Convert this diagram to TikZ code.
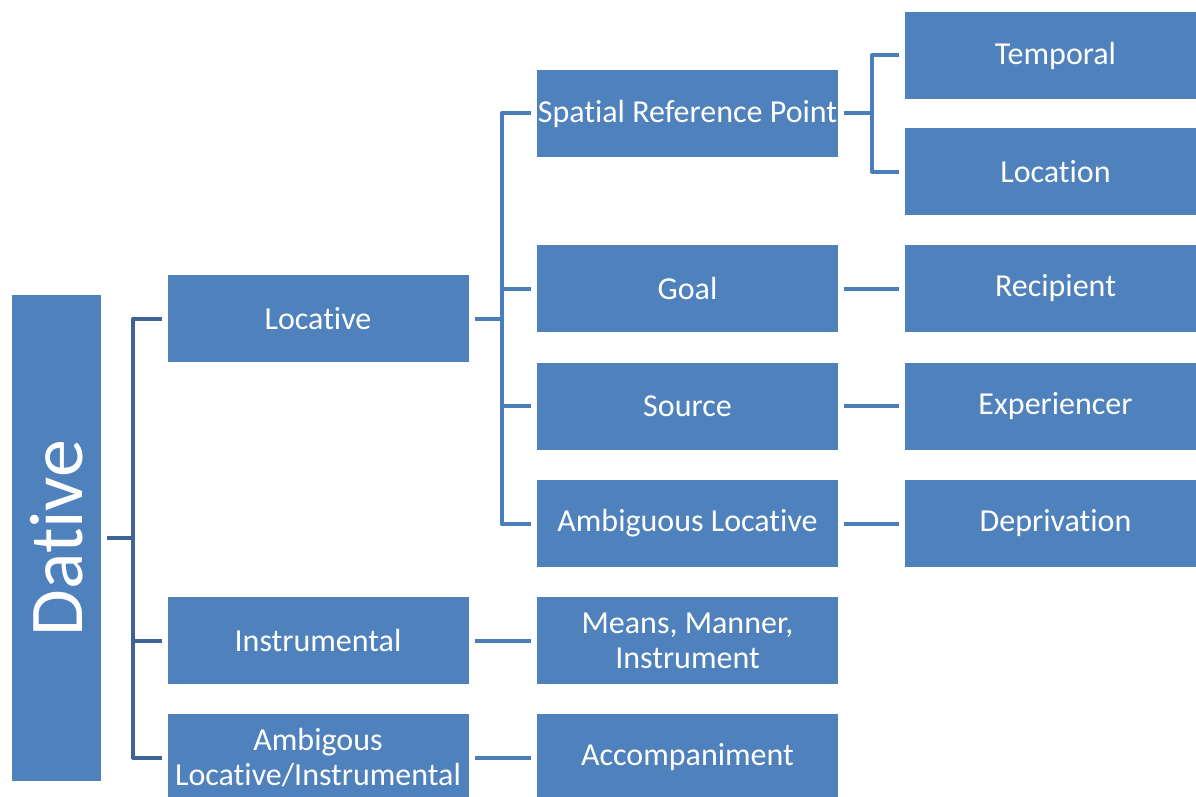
\documentclass[tikz,border=0pt]{standalone}
\usepackage{fontspec}
\setmainfont{Carlito}[Ligatures={NoCommon}]
\usepackage{tikz}
\usetikzlibrary{positioning}
\definecolor{boxblue}{HTML}{4F81BD}
\definecolor{lineblue}{HTML}{4A7EBB}
\definecolor{darkline}{HTML}{3E6596}
\tikzset{
  box/.style={rectangle, fill=boxblue, text=white, minimum width=301pt, minimum height=87pt, inner sep=0pt, outer sep=6pt, align=center, font=\fontsize{32}{35}\selectfont},
  conn/.style={draw=lineblue, line width=4pt, line join=round},
  dconn/.style={draw=darkline, line width=4pt, line join=round}
}
\begin{document}
\begin{tikzpicture}[x=1pt, y=-1pt]
\useasboundingbox (0,0) rectangle (1196,797);
%\draw [help lines] (0,0) grid (1196,797);
%1
\node[box, minimum width=89pt, minimum height=486pt] (dative) at (56.5,538) {\rotatebox{90}{\fontsize{76}{80}\selectfont Dative}};
%2
\node[box] (locative) at (318,318.5) {Locative};
\node[box] (instr) at (318,640.5) {Instrumental};
\node[box] (ambli) at (318,757.5) {Ambigous\\Locative/Instrumental};
%3
\node[box] (spatial) at (687.5,113.5) {Spatial Reference Point};
\node[box] (goal) at (687.5,288.5) {Goal};
\node[box] (source) at (687.5,406) {Source};
\node[box] (ambloc) at (687.5,523.5) {Ambiguous Locative};
\node[box] (means) at (687.5,640.5) {Means, Manner,\\Instrument};
\node[box] (accomp) at (687.5,757.5) {Accompaniment};
%4
\node[box] (temporal) at (1055.5,55.5) {Temporal};
\node[box] (location) at (1055.5,171.5) {Location};
\node[box] (recipient) at (1055.5,288.5) {Recipient};
\node[box] (experiencer) at (1055.5,406) {Experiencer};
\node[box] (deprivation) at (1055.5,523.5) {Deprivation};

% connectors
\draw[dconn] (dative.east) -- ++(26,0) coordinate (dj);
\draw[dconn] (locative.west) -| (dj) |- (ambli.west);
\draw[dconn] (instr.west) -- (instr.west -| dj);

\draw[conn] (locative.east) -- ++(27,0) coordinate (lj);
\draw[conn] (spatial.west) -| (lj) |- (ambloc.west);
\draw[conn] (goal.west) -- (goal.west -| lj);
\draw[conn] (source.west) -- (source.west -| lj);

\draw[conn] (spatial.east) -- ++(28,0) coordinate (sj);
\draw[conn] (temporal.west) -| (sj) |- (location.west);

\draw[conn] (goal) -- (recipient);
\draw[conn] (source) -- (experiencer);
\draw[conn] (ambloc) -- (deprivation);
\draw[conn] (instr) -- (means);
\draw[conn] (ambli) -- (accomp);
\end{tikzpicture}
\end{document}
